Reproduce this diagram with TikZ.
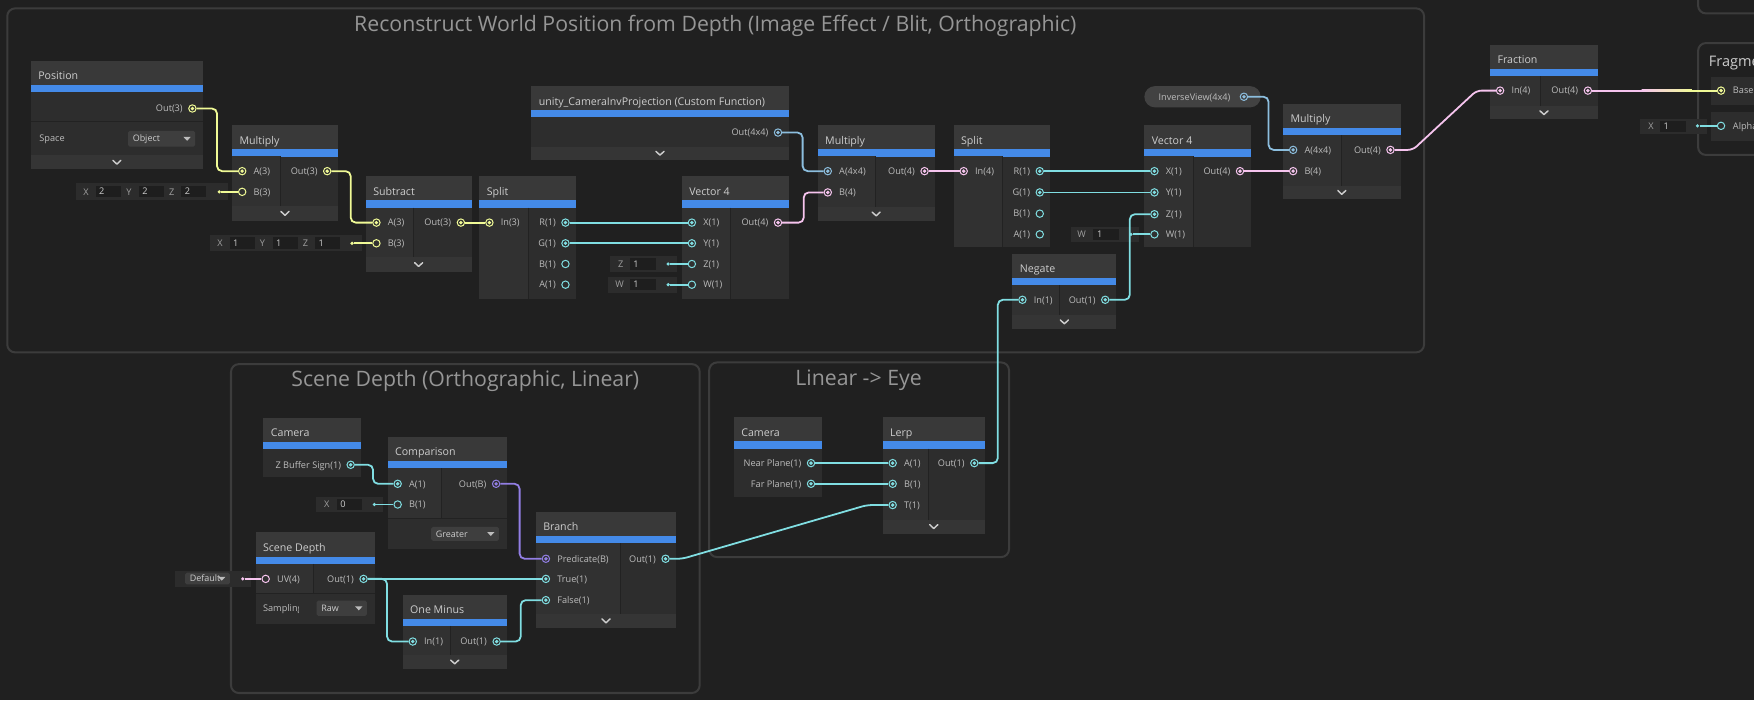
\documentclass[tikz,border=0pt]{standalone}
\usepackage{fontspec}
\setmainfont{Open Sans}
\usetikzlibrary{calc}
\definecolor{bgc}{RGB}{32,32,32}
\definecolor{grplinec}{RGB}{60,60,60}
\definecolor{nheadc}{RGB}{57,57,57}
\definecolor{nbodyc}{RGB}{45,45,45}
\definecolor{ncolc}{RGB}{49,49,49}
\definecolor{nchevc}{RGB}{53,53,53}
\definecolor{nbluec}{RGB}{68,138,232}
\definecolor{sepc}{RGB}{34,34,34}
\definecolor{ttextc}{RGB}{205,205,205}
\definecolor{ptextc}{RGB}{188,188,188}
\definecolor{gtextc}{RGB}{150,150,150}
\definecolor{fldc}{RGB}{44,44,44}
\definecolor{valc}{RGB}{30,30,30}
\definecolor{dropc}{RGB}{62,62,62}
\definecolor{pillc}{RGB}{66,66,66}
\definecolor{cY}{RGB}{240,250,150}
\definecolor{cC}{RGB}{128,222,226}
\definecolor{cP}{RGB}{246,196,238}
\definecolor{cM}{RGB}{140,190,222}
\definecolor{cB}{RGB}{146,126,228}
\newcommand{\ubox}[6]{%
  \fill[nbodyc] (#1,#2) rectangle (#3,#4);
  \fill[nheadc] (#1,#2) rectangle (#3,{#2+21.5});
  \fill[nbluec] (#1,{#2+21.5}) rectangle (#3,{#2+28});
  \node[ntitle] (#5) at ({#1+6.5},{#2+16.9}) {#6};}
\newcommand{\ucol}[4]{\fill[ncolc] (#1,#2) rectangle (#3,#4); \draw[sepline] (#3,#2) -- (#3,#4);}
\newcommand{\uchev}[5]{\fill[nchevc] (#1,#2) rectangle (#3,#4);
  \coordinate (#5) at ({(#1+#3)/2},{(#2+#4)/2});
  \draw[chevline] (#5) ++(-3.6,-1.7) -- ++(3.6,3.4) -- ++(3.6,-3.4);}
\newcommand{\pcon}[4]{\node[port,draw=#4] (#1) at (#2,#3) {}; \fill[#4] (#1.center) circle (1.7);}
\newcommand{\pring}[4]{\node[port,draw=#4] (#1) at (#2,#3) {};}
\newcommand{\labw}[4]{\node[plab,anchor=base west] (#1) at (#2,{#3+2.9}) {#4};}
\newcommand{\labe}[4]{\node[plab,anchor=base east] (#1) at (#2,{#3+2.9}) {#4};}
\newcommand{\ufld}[4]{\fill[fldc] (#1,#2) rectangle (#3,#4);}
\newcommand{\uflab}[4]{\node[flab] (#1) at (#2,{#3+2.9}) {#4};}
\newcommand{\uval}[6]{\fill[valc] (#2,#3) rectangle (#4,#5);
  \node[fval] (#1) at ({#2+3},{(#3+#5)/2+2.9}) {#6};}
\newcommand{\udrop}[6]{\fill[dropc,rounded corners=1.5pt] (#2,#3) rectangle (#4,#5);
  \node[dval] (#1) at ({#2+4},{(#3+#5)/2+2.9}) {#6};
  \fill[ptextc] ({#4-10.5},{(#3+#5)/2-1.6}) -- ({#4-4},{(#3+#5)/2-1.6}) -- ({#4-7.25},{(#3+#5)/2+1.9}) -- cycle;}
\begin{document}
\begin{tikzpicture}[x=1pt,y=-1pt,
  ntitle/.style={anchor=base west,inner sep=0pt,text=ttextc,font=\fontsize{9.5}{11}\selectfont},
  plab/.style={inner sep=0pt,text=ptextc,font=\fontsize{8.2}{10}\selectfont},
  flab/.style={anchor=base,inner sep=0pt,text=ptextc!85!black,font=\fontsize{8.2}{10}\selectfont},
  fval/.style={anchor=base west,inner sep=0pt,text=ttextc,font=\fontsize{8.2}{10}\selectfont},
  dval/.style={anchor=base west,inner sep=0pt,text=ttextc,font=\fontsize{8}{10}\selectfont},
  gtitle/.style={anchor=base,inner sep=0pt,text=gtextc,font=\fontsize{19}{22}\selectfont},
  grpf/.style={draw=grplinec,line width=1.8pt,rounded corners=7pt},
  port/.style={circle,minimum size=6.6pt,inner sep=0pt,line width=0.9pt},
  fdot/.style={circle,minimum size=3.2pt,inner sep=0pt},
  sepline/.style={draw=sepc,line width=0.8pt},
  chevline/.style={draw=ttextc,line width=1.3pt,line cap=round,line join=round},
  wire/.style={line width=1.6pt,rounded corners=4.5pt},
  wY/.style={wire,draw=cY},wC/.style={wire,draw=cC},wP/.style={wire,draw=cP},
  wM/.style={wire,draw=cM},wB/.style={wire,draw=cB}]
\useasboundingbox (0,0) rectangle (1568,626);
\clip (0,0) rectangle (1568,626);
\fill[bgc] (0,0) rectangle (1568,626);
% ---------- groups
\draw[grpf] (6.5,7.5) rectangle (1273,315);
\node[gtitle] (g1t) at (639.5,27.8) {Reconstruct World Position from Depth (Image Effect / Blit, Orthographic)};
\draw[grpf] (206.5,325.5) rectangle (625.5,619.5);
\node[gtitle] (g2t) at (416,345.8) {Scene Depth (Orthographic, Linear)};
\draw[grpf] (634,324) rectangle (902,498);
\node[gtitle] (g3t) at (767.5,344.8) {Linear -> Eye};
\draw[grpf] (1518,-20) rectangle (1640,12);
\draw[grpf] (1518,38.5) rectangle (1640,138.5);
\node[anchor=base west,inner sep=0pt,text=ttextc,font=\fontsize{13}{15}\selectfont] (fragt) at (1527.5,59.2) {Fragment};
% ---------- Position
\ubox{27.5}{54.5}{181.5}{151}{posT}{Position}
\draw[sepline] (27.5,108.5) -- (181.5,108.5);
\node[plab,anchor=base west] (spaceL) at (35,126.9) {Space};
\udrop{objD}{114.5}{117}{174.5}{131}{Object}
\uchev{27.5}{139}{181.5}{151}{posC}
\pcon{posout}{172}{97}{cY}\labe{posoutL}{163.5}{97}{Out(3)}
% ---------- Multiply 1
\ubox{207.5}{112}{302}{197.5}{mul1T}{Multiply}
\ucol{207.5}{139.5}{251}{184}
\uchev{207.5}{184}{302}{197.5}{mul1C}
\pcon{m1a}{216.5}{153}{cY}\labw{m1aL}{226.5}{153}{A(3)}
\pring{m1b}{216.5}{171.5}{cY}\labw{m1bL}{226.5}{171.5}{B(3)}
\pcon{m1o}{292.5}{153}{cY}\labe{m1oL}{284}{153}{Out(3)}
\ufld{67.5}{164}{204}{178.5}
\uflab{f1x}{77}{171.5}{X}\uval{f1xv}{85.5}{166}{108}{176.5}{2}
\uflab{f1y}{115.3}{171.5}{Y}\uval{f1yv}{124}{166}{146.5}{176.5}{2}
\uflab{f1z}{153.6}{171.5}{Z}\uval{f1zv}{162}{166}{184.5}{176.5}{2}
\node[fdot,fill=cY] (m1bd) at (196,171.5) {};
% ---------- Subtract
\ubox{327}{157.5}{421.5}{243}{subT}{Subtract}
\ucol{327}{185.5}{370}{230}
\uchev{327}{230}{421.5}{243}{subC}
\pcon{suba}{336.5}{199}{cY}\labw{subaL}{346.5}{199}{A(3)}
\pring{subb}{336.5}{217.5}{cY}\labw{subbL}{346.5}{217.5}{B(3)}
\pcon{subo}{412}{199}{cY}\labe{suboL}{403.5}{199}{Out(3)}
\ufld{187.5}{210}{323.5}{224.5}
\uflab{f2x}{196.7}{217.5}{X}\uval{f2xv}{205.3}{212}{227.8}{222.5}{1}
\uflab{f2y}{234.7}{217.5}{Y}\uval{f2yv}{243.6}{212}{266.2}{222.5}{1}
\uflab{f2z}{273}{217.5}{Z}\uval{f2zv}{281.6}{212}{304.1}{222.5}{1}
\node[fdot,fill=cY] (subbd) at (314.7,217.5) {};
% ---------- Split 1
\ubox{428.5}{157.5}{515}{267}{sp1T}{Split}
\ucol{428.5}{185.5}{472.5}{267}
\pcon{sp1i}{437.5}{199}{cY}\labw{sp1iL}{447.5}{199}{In(3)}
\pcon{sp1r}{505.5}{199}{cC}\labe{sp1rL}{497}{199}{R(1)}
\pcon{sp1g}{505.5}{217.5}{cC}\labe{sp1gL}{497}{217.5}{G(1)}
\pring{sp1b}{505.5}{236}{cC}\labe{sp1bL}{497}{236}{B(1)}
\pring{sp1a}{505.5}{254.5}{cC}\labe{sp1aL}{497}{254.5}{A(1)}
% ---------- Custom function
\ubox{475}{77}{705}{143}{cipT}{unity\_CameraInvProjection (Custom Function)}
\uchev{475}{131}{705}{143}{cipC}
\pcon{cipo}{695.5}{118.5}{cM}\labe{cipoL}{687}{118.5}{Out(4x4)}
% ---------- Vector 4 (a)
\ubox{609.5}{157.5}{705}{267}{v4aT}{Vector 4}
\ucol{609.5}{185.5}{653}{267}
\pcon{v4ax}{618.5}{199}{cC}\labw{v4axL}{628.5}{199}{X(1)}
\pcon{v4ay}{618.5}{217.5}{cC}\labw{v4ayL}{628.5}{217.5}{Y(1)}
\pring{v4az}{618.5}{236}{cC}\labw{v4azL}{628.5}{236}{Z(1)}
\pring{v4aw}{618.5}{254.5}{cC}\labw{v4awL}{628.5}{254.5}{W(1)}
\pcon{v4ao}{695.5}{199}{cP}\labe{v4aoL}{687}{199}{Out(4)}
\ufld{545.5}{229}{605}{243}
\uflab{f3z}{555}{236}{Z}\uval{f3zv}{563}{231}{586.5}{241}{1}
\node[fdot,fill=cC] (v4azd) at (597.3,236) {};
\ufld{543.5}{247.5}{605}{261.5}
\uflab{f4w}{554}{254.5}{W}\uval{f4wv}{563}{249.5}{586.5}{259.5}{1}
\node[fdot,fill=cC] (v4awd) at (597.3,254.5) {};
% ---------- Multiply 2
\ubox{731}{112}{835.5}{197.5}{mul2T}{Multiply}
\ucol{731}{139.5}{783}{185}
\uchev{731}{185}{835.5}{197.5}{mul2C}
\pcon{m2a}{740}{153}{cM}\labw{m2aL}{750}{153}{A(4x4)}
\pcon{m2b}{740}{172}{cP}\labw{m2bL}{750}{172}{B(4)}
\pcon{m2o}{826.5}{153}{cP}\labe{m2oL}{818}{153}{Out(4)}
% ---------- Split 2
\ubox{852.5}{112}{938.5}{221}{sp2T}{Split}
\ucol{852.5}{139.5}{896}{221}
\pcon{sp2i}{861.5}{153}{cP}\labw{sp2iL}{871.5}{153}{In(4)}
\pcon{sp2r}{929.5}{153}{cC}\labe{sp2rL}{921}{153}{R(1)}
\pcon{sp2g}{929.5}{172}{cC}\labe{sp2gL}{921}{172}{G(1)}
\pring{sp2b}{929.5}{191}{cC}\labe{sp2bL}{921}{191}{B(1)}
\pring{sp2a}{929.5}{209.5}{cC}\labe{sp2aL}{921}{209.5}{A(1)}
% ---------- Vector 4 (b)
\ubox{1023}{112}{1118}{220.5}{v4bT}{Vector 4}
\ucol{1023}{139.5}{1067}{220.5}
\pcon{v4bx}{1032}{153}{cC}\labw{v4bxL}{1042}{153}{X(1)}
\pcon{v4by}{1032}{172}{cC}\labw{v4byL}{1042}{172}{Y(1)}
\pcon{v4bz}{1032}{191.5}{cC}\labw{v4bzL}{1042}{191.5}{Z(1)}
\pring{v4bw}{1032}{209.5}{cC}\labw{v4bwL}{1042}{209.5}{W(1)}
\pcon{v4bo}{1108.5}{153}{cP}\labe{v4boL}{1100}{153}{Out(4)}
\ufld{957}{202.5}{1018.5}{216.5}
\uflab{f5w}{967}{209.5}{W}\uval{f5wv}{977.5}{204.5}{1000}{214.5}{1}
\node[fdot,fill=cC] (v4bwd) at (1011,209.5) {};
% ---------- Negate
\ubox{905}{227}{998}{294}{negT}{Negate}
\ucol{905}{255}{947.5}{281.5}
\uchev{905}{281.5}{998}{294}{negC}
\pcon{negi}{914}{268}{cC}\labw{negiL}{924}{268}{In(1)}
\pcon{nego}{988}{268}{cC}\labe{negoL}{979.5}{268}{Out(1)}
% ---------- InverseView
\fill[pillc,rounded corners=9.5pt] (1023,77) rectangle (1127,96);
\node[plab,anchor=base west] (ivL) at (1035.5,89.4) {InverseView(4x4)};
\pcon{ivo}{1112}{86.5}{cM}
% ---------- Multiply 3
\ubox{1147}{93}{1252}{178}{mul3T}{Multiply}
\ucol{1147}{121}{1199}{166}
\uchev{1147}{166}{1252}{178}{mul3C}
\pcon{m3a}{1156}{134}{cM}\labw{m3aL}{1166}{134}{A(4x4)}
\pcon{m3b}{1156}{153}{cP}\labw{m3bL}{1166}{153}{B(4)}
\pcon{m3o}{1243}{134}{cP}\labe{m3oL}{1234.5}{134}{Out(4)}
% ---------- Fraction
\ubox{1332}{40}{1428.5}{106.5}{fracT}{Fraction}
\ucol{1332}{68}{1377}{95}
\uchev{1332}{95}{1428.5}{106.5}{fracC}
\pcon{fri}{1341}{81}{cP}\labw{friL}{1351}{81}{In(4)}
\pcon{fro}{1419.5}{81}{cP}\labe{froL}{1411}{81}{Out(4)}
% ---------- Fragment stack blocks
\fill[nbodyc] (1529.5,69) rectangle (1640,94);
\fill[nbodyc] (1529.5,100.5) rectangle (1640,126);
\pcon{basep}{1538.5}{81}{cY}\labw{basepL}{1549}{81}{Base Color}
\pring{alphap}{1538.5}{112.5}{cC}\labw{alphapL}{1549}{112.5}{Alpha}
\ufld{1466}{106}{1526}{120}
\uflab{f6x}{1476}{113}{X}\uval{f6xv}{1484}{108}{1507}{118}{1}
\node[fdot,fill=cC] (alphad) at (1517.5,112.5) {};
% ---------- Camera 1
\ubox{235.5}{373.5}{323}{426.5}{cam1T}{Camera}
\pcon{zbo}{313.5}{415.5}{cC}\labe{zboL}{305}{415.5}{Z Buffer Sign(1)}
% ---------- Comparison
\ubox{346.5}{390.5}{453}{491}{cmpT}{Comparison}
\ucol{346.5}{418.5}{395}{463.5}
\draw[sepline] (346.5,463.5) -- (453,463.5);
\udrop{cmpD}{385.5}{471}{446}{483.5}{Greater}
\pcon{cmpa}{355.5}{432.5}{cC}\labw{cmpaL}{365.5}{432.5}{A(1)}
\pring{cmpb}{355.5}{451}{cC}\labw{cmpbL}{365.5}{451}{B(1)}
\pcon{cmpo}{443.5}{432.5}{cB}\labe{cmpoL}{435}{432.5}{Out(B)}
\ufld{282.5}{444}{342}{458}
\uflab{f7x}{292.2}{451}{X}\uval{f7xv}{301}{446}{323.5}{456}{0}
\node[fdot,fill=cC] (cmpbd) at (334.6,451) {};
% ---------- Scene Depth
\ubox{228.5}{476}{335}{557.5}{sdT}{Scene Depth}
\ucol{228.5}{504}{280}{530.5}
\draw[sepline] (228.5,530.5) -- (335,530.5);
\begin{scope}
\clip (228.5,531) rectangle (266.5,557);
\node[plab,anchor=base west] (sampL) at (235,546.5) {Sampling};
\end{scope}
\udrop{sdD}{283}{537}{328}{550.5}{Raw}
\pring{sduv}{237.5}{517.5}{cP}\labw{sduvL}{247.5}{517.5}{UV(4)}
\pcon{sdo}{325}{517.5}{cC}\labe{sdoL}{316.5}{517.5}{Out(1)}
\ufld{156.5}{510}{224.5}{524.5}
\udrop{defD}{165.5}{512}{205.5}{522.5}{Default}
\node[fdot,fill=cP] (sduvd) at (217,517.5) {};
% ---------- One Minus
\ubox{360}{531.5}{453}{598}{omT}{One Minus}
\ucol{360}{559.5}{403}{585.5}
\uchev{360}{585.5}{453}{598}{omC}
\pcon{omi}{369}{573.5}{cC}\labw{omiL}{379}{573.5}{In(1)}
\pcon{omo}{444}{573.5}{cC}\labe{omoL}{435.5}{573.5}{Out(1)}
% ---------- Branch
\ubox{479}{457.5}{604.5}{561}{brT}{Branch}
\ucol{479}{485.5}{554.5}{549}
\uchev{479}{549}{604.5}{561}{brC}
\pcon{brp}{488}{499.5}{cB}\labw{brpL}{498}{499.5}{Predicate(B)}
\pcon{brt}{488}{517.5}{cC}\labw{brtL}{498}{517.5}{True(1)}
\pcon{brf}{488}{536.5}{cC}\labw{brfL}{498}{536.5}{False(1)}
\pcon{bro}{595}{499.5}{cC}\labe{broL}{586.5}{499.5}{Out(1)}
% ---------- Camera 2
\ubox{656}{373}{734.5}{444.5}{cam2T}{Camera}
\pcon{nearp}{725}{414}{cC}\labe{nearpL}{716.5}{414}{Near Plane(1)}
\pcon{farp}{725}{432.5}{cC}\labe{farpL}{716.5}{432.5}{Far Plane(1)}
% ---------- Lerp
\ubox{789}{373}{880.5}{477}{lerpT}{Lerp}
\ucol{789}{401}{830}{464.5}
\uchev{789}{464.5}{880.5}{477}{lerpC}
\pcon{la}{798}{414}{cC}\labw{laL}{808}{414}{A(1)}
\pcon{lb}{798}{432.5}{cC}\labw{lbL}{808}{432.5}{B(1)}
\pcon{lt}{798}{451.5}{cC}\labw{ltL}{808}{451.5}{T(1)}
\pcon{lo}{871}{414}{cC}\labe{loL}{862.5}{414}{Out(1)}
% ================= wires
\draw[wY] (posout) -- ([xshift=22pt]posout.center) |- (m1a);
\draw[wY] (m1bd) -- (m1b);
\draw[wY] (m1o) -- ([xshift=21pt]m1o.center) |- (suba);
\draw[wY] (subbd) -- (subb);
\draw[wY] (subo) -- (sp1i);
\draw[wC] (sp1r) -- (v4ax);
\draw[wC] (sp1g) -- (v4ay);
\draw[wC] (v4azd) -- (v4az);
\draw[wC] (v4awd) -- (v4aw);
\draw[wM] (cipo) -- ([xshift=22pt]cipo.center) |- (m2a);
\draw[wP] (v4ao) -- ([xshift=23pt]v4ao.center) |- (m2b);
\draw[wP] (m2o) -- (sp2i);
\draw[wC] (sp2r) -- (v4bx);
\draw[wC] (sp2g) -- (v4by);
\draw[wC] (nego) -- ([xshift=22pt]nego.center) |- (v4bz);
\draw[wC] (v4bwd) -- (v4bw);
\draw[wM] (ivo) -- ([xshift=22pt]ivo.center) |- (m3a);
\draw[wP] (v4bo) -- (m3b);
\draw[wP] (m3o) -- ([xshift=20pt]m3o.center) -- ([xshift=-21pt]fri.center) -- (fri);
\draw[wP] (fro) -- (basep);
\shade[left color=cP,right color=cY] ([xshift=48pt,yshift=-0.8pt]fro.center) rectangle ([xshift=-26pt,yshift=0.8pt]basep.center);
\draw[wY] ([xshift=-26pt]basep.center) -- (basep);
\draw[wC] (alphad) -- (alphap);
\draw[wC] (zbo) -- ([xshift=20pt]zbo.center) |- (cmpa);
\draw[wC] (cmpbd) -- (cmpb);
\draw[wB] (cmpo) -- ([xshift=21pt]cmpo.center) |- (brp);
\draw[wP] (sduvd) -- (sduv);
\draw[wC] (sdo) -- (brt);
\draw[wC] (sdo) -- ([xshift=21pt]sdo.center) |- (omi);
\draw[wC] (omo) -- ([xshift=21.5pt]omo.center) |- (brf);
\draw[wC] (bro) -- ([xshift=15pt]bro.center) -- ([xshift=-23pt]lt.center) -- (lt);
\draw[wC] (nearp) -- (la);
\draw[wC] (farp) -- (lb);
\draw[wC] (lo) -- ([xshift=21pt]lo.center) |- (negi);
\end{tikzpicture}
\end{document}
